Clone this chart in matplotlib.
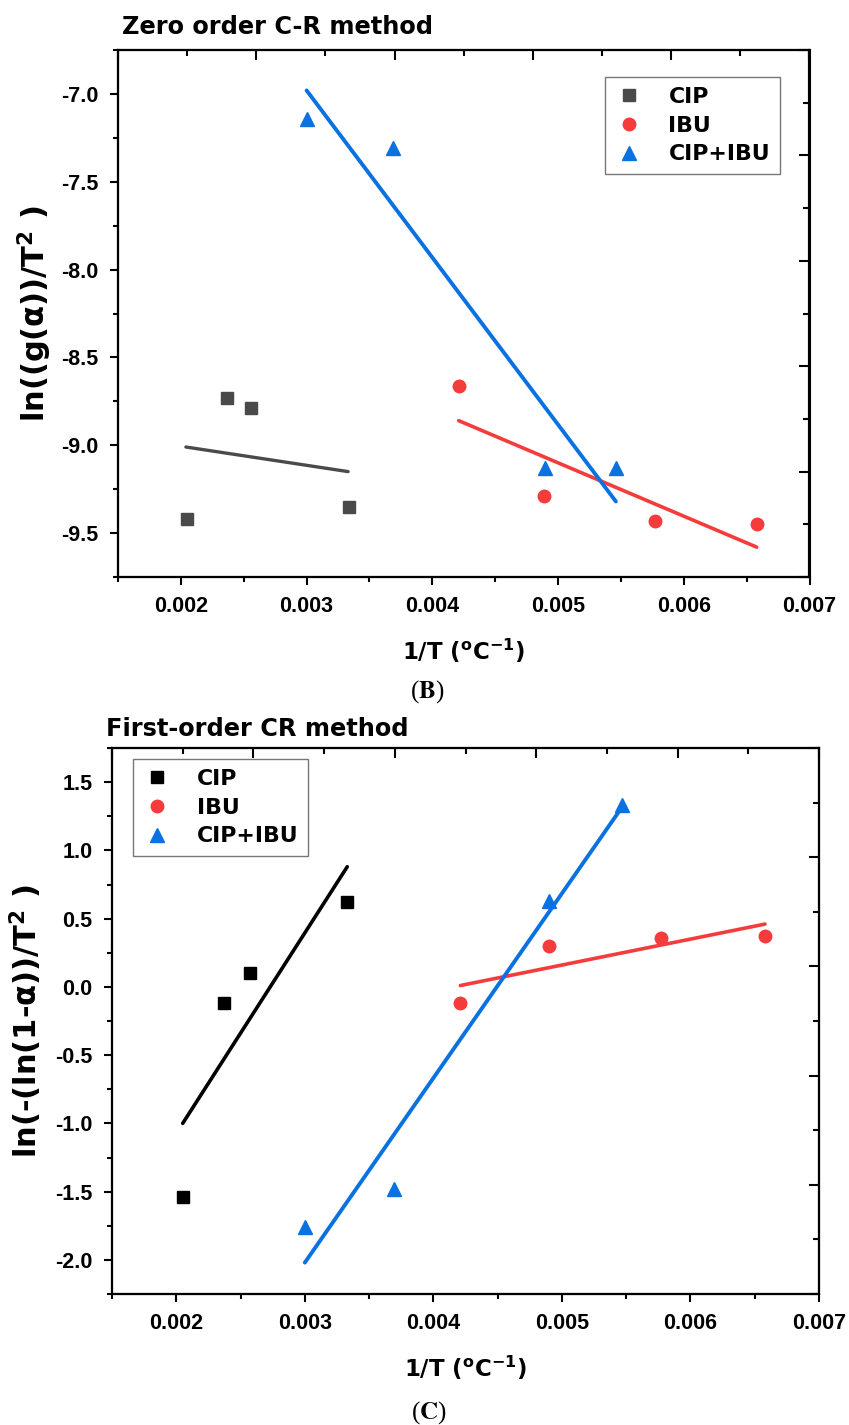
import matplotlib
matplotlib.use("Agg")
import matplotlib.pyplot as plt
from matplotlib.ticker import MultipleLocator

plt.rcParams['font.family'] = ['Liberation Sans', 'DejaVu Sans']
plt.rcParams['font.weight'] = 'bold'
plt.rcParams['axes.unicode_minus'] = False
plt.rcParams['mathtext.fontset'] = 'dejavusans'
plt.rcParams['mathtext.default'] = 'bf'

# ---- data: zero order C-R method (B) ----
b_cip_x = [0.00205, 0.00237, 0.00256, 0.00334]
b_cip_y = [-9.42, -8.73, -8.79, -9.35]
b_cip_fit_x = [0.00204, 0.00333]
b_cip_fit_y = [-9.01, -9.15]

b_ibu_x = [0.00421, 0.00489, 0.00577, 0.00658]
b_ibu_y = [-8.66, -9.29, -9.43, -9.45]
b_ibu_fit_x = [0.00421, 0.00658]
b_ibu_fit_y = [-8.86, -9.58]

b_mix_x = [0.00300, 0.00369, 0.00490, 0.00546]
b_mix_y = [-7.14, -7.31, -9.13, -9.13]
b_mix_fit_x = [0.00300, 0.00546]
b_mix_fit_y = [-6.98, -9.32]

# ---- data: first-order CR method (C) ----
c_cip_x = [0.00205, 0.00237, 0.00257, 0.00333]
c_cip_y = [-1.54, -0.115, 0.10, 0.62]
c_cip_fit_x = [0.00205, 0.00333]
c_cip_fit_y = [-1.00, 0.88]

c_ibu_x = [0.00421, 0.00490, 0.00577, 0.00658]
c_ibu_y = [-0.12, 0.30, 0.36, 0.37]
c_ibu_fit_x = [0.00421, 0.00658]
c_ibu_fit_y = [0.01, 0.46]

c_mix_x = [0.00300, 0.00369, 0.00490, 0.00547]
c_mix_y = [-1.76, -1.48, 0.63, 1.33]
c_mix_fit_x = [0.00300, 0.00547]
c_mix_fit_y = [-2.02, 1.32]

labels = ['CIP', 'IBU', 'CIP+IBU']
RED = '#f53c3c'
BLUE = '#0a72e0'
WIDE = ['DejaVu Sans']   # wide bold face, closer to the stretched lettering

W, H = 849, 1425
fig = plt.figure(figsize=(W / 100, H / 100), dpi=100)


def px_axes(l, t, r, b):
    return fig.add_axes([l / W, 1 - b / H, (r - l) / W, (b - t) / H])


def style_axes(ax, ylim, ymaj):
    ax.set_xlim(0.0015, 0.007)
    ax.set_ylim(*ylim)
    ax.xaxis.set_major_locator(MultipleLocator(0.001))
    ax.xaxis.set_minor_locator(MultipleLocator(0.0005))
    ax.yaxis.set_major_locator(MultipleLocator(ymaj))
    ax.yaxis.set_minor_locator(MultipleLocator(ymaj / 2))
    for s in ax.spines.values():
        s.set_linewidth(1.5)
    ax.tick_params(which='major', direction='out', length=6, width=1.5,
                   labelsize=15.5, pad=8)
    ax.tick_params(which='minor', direction='out', length=3.5, width=1.5)
    for lab in ax.get_xticklabels() + ax.get_yticklabels():
        lab.set_fontweight('bold')
    # independent top / right scales with inward ticks (as in the original)
    tx = ax.twiny()
    tx.set_xlim(0, 1)
    tx.xaxis.set_major_locator(MultipleLocator(0.2))
    tx.xaxis.set_minor_locator(MultipleLocator(0.1))
    tx.tick_params(axis='x', which='major', direction='in', length=7, width=1.5, labeltop=False)
    tx.tick_params(axis='x', which='minor', direction='in', length=4, width=1.5)
    ty = ax.twinx()
    ty.set_ylim(0, 1)
    ty.yaxis.set_major_locator(MultipleLocator(0.2))
    ty.yaxis.set_minor_locator(MultipleLocator(0.1))
    ty.tick_params(axis='y', which='major', direction='in', length=7, width=1.5, labelright=False)
    ty.tick_params(axis='y', which='minor', direction='in', length=4, width=1.5)
    for t in (tx, ty):
        for s in t.spines.values():
            s.set_linewidth(1.5)
    ax.set_zorder(3)
    ax.patch.set_visible(False)


def add_legend(ax, anchor):
    leg = ax.legend(loc='upper left', bbox_to_anchor=anchor, borderaxespad=0,
                    fancybox=False, edgecolor='#555555', handletextpad=1.15,
                    labelspacing=0.4, handlelength=1.3, borderpad=0.45,
                    prop={'family': WIDE, 'weight': 'bold', 'size': 15.8})
    leg.get_frame().set_linewidth(1.0)
    return leg


xlab = r'1/T ($^{o}$C$^{-1}$)'

# ---------- panel B ----------
ax1 = px_axes(118, 50, 809.5, 577)
gray = '#4a4a4a'
ax1.plot(b_cip_fit_x, b_cip_fit_y, color=gray, lw=2.4, solid_capstyle='round')
ax1.plot(b_ibu_fit_x, b_ibu_fit_y, color=RED, lw=2.6, solid_capstyle='round')
ax1.plot(b_mix_fit_x, b_mix_fit_y, color=BLUE, lw=2.8, solid_capstyle='round')
ax1.plot(b_cip_x, b_cip_y, 's', color=gray, ms=8.5, ls='none', label=labels[0])
ax1.plot(b_ibu_x, b_ibu_y, 'o', color=RED, ms=9, ls='none', label=labels[1])
ax1.plot(b_mix_x, b_mix_y, '^', color=BLUE, ms=10, ls='none', label=labels[2])
style_axes(ax1, (-9.75, -6.75), 0.5)
ax1.set_xlabel(xlab, family=WIDE, fontsize=16.5, fontweight='bold', labelpad=14)
ax1.set_ylabel('ln((g(α))/T$^{2}$ )', family=WIDE, fontsize=22, fontweight='bold')
ax1.yaxis.set_label_coords(-0.093, 0.5)
add_legend(ax1, (0.704, 0.949))
fig.text(122 / W, 1 - 27 / H, 'Zero order C-R method', family=WIDE, fontsize=17.3,
         fontweight='bold', ha='left', va='center')
fig.text(427 / W, 1 - 692 / H, r'($\mathbf{B}$)', family='Liberation Serif',
         math_fontfamily='stix', fontsize=18, fontweight='normal', ha='center', va='center')

# ---------- panel C ----------
ax2 = px_axes(112, 748, 819, 1294)
ax2.plot(c_cip_fit_x, c_cip_fit_y, color='black', lw=2.6, solid_capstyle='round')
ax2.plot(c_ibu_fit_x, c_ibu_fit_y, color=RED, lw=2.6, solid_capstyle='round')
ax2.plot(c_mix_fit_x, c_mix_fit_y, color=BLUE, lw=2.8, solid_capstyle='round')
ax2.plot(c_cip_x, c_cip_y, 's', color='black', ms=8.5, ls='none', label=labels[0])
ax2.plot(c_ibu_x, c_ibu_y, 'o', color=RED, ms=9, ls='none', label=labels[1])
ax2.plot(c_mix_x, c_mix_y, '^', color=BLUE, ms=10, ls='none', label=labels[2])
style_axes(ax2, (-2.25, 1.75), 0.5)
ax2.set_xlabel(xlab, family=WIDE, fontsize=16.5, fontweight='bold', labelpad=14)
ax2.set_ylabel('ln(-(ln(1-α))/T$^{2}$ )', family=WIDE, fontsize=22, fontweight='bold')
ax2.yaxis.set_label_coords(-0.096, 0.5)
add_legend(ax2, (0.0297, 0.98))
fig.text(106 / W, 1 - 729 / H, 'First-order CR method', family=WIDE, fontsize=17.3,
         fontweight='bold', ha='left', va='center')
fig.text(429 / W, 1 - 1413 / H, r'($\mathbf{C}$)', family='Liberation Serif',
         math_fontfamily='stix', fontsize=18, fontweight='normal', ha='center', va='center')

fig.savefig('out.png', dpi=100)
